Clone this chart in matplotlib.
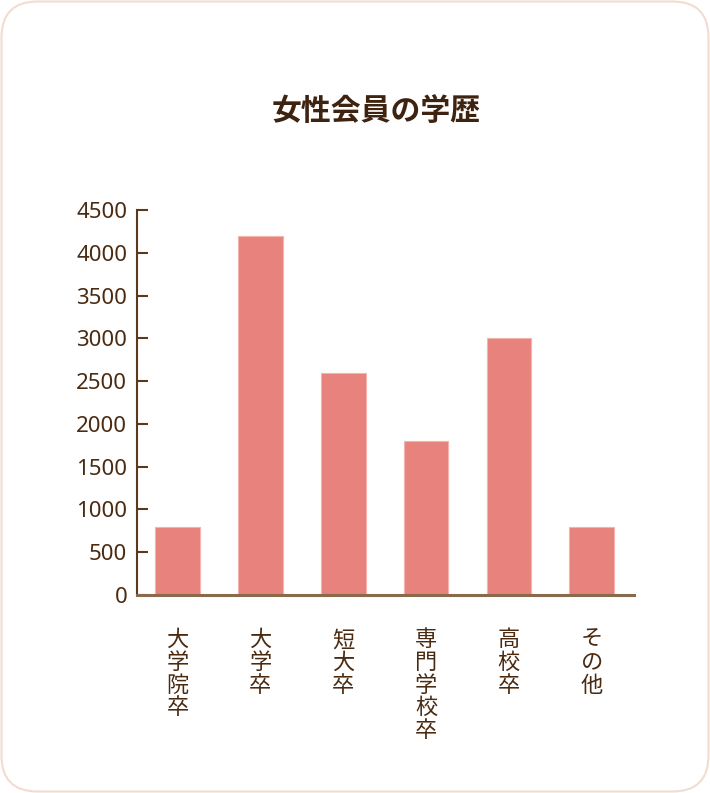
import matplotlib
matplotlib.use("Agg")
import matplotlib.pyplot as plt
from matplotlib.patches import FancyBboxPatch

categories = ["大学院卒", "大学卒", "短大卒", "専門学校卒", "高校卒", "その他"]
values = [800, 4200, 2600, 1800, 3000, 800]
yticks = [0, 500, 1000, 1500, 2000, 2500, 3000, 3500, 4000, 4500]
title = "女性会員の学歴"

plt.rcParams['font.family'] = ['Noto Sans CJK JP', 'DejaVu Sans']
text_color = "#4a2b12"

fig = plt.figure(figsize=(7.10, 7.93), dpi=100)
fig.patch.set_facecolor("white")

border = FancyBboxPatch((1.5, 1.5), 707, 790,
                        boxstyle="round,pad=0,rounding_size=36",
                        transform=None, facecolor="white",
                        edgecolor="#f2dcd0", linewidth=1.5, zorder=0)
fig.add_artist(border)

ax = fig.add_axes([137/710, 198/793, (634-137)/710, (595-210)/793])
ax.set_facecolor("none")
x = list(range(len(categories)))
ax.bar(x, values, width=0.54, color="#e8827c", edgecolor="#f3b4ad", linewidth=0.8, zorder=2)
ax.set_xlim(-0.49, 5.51)
ax.set_ylim(0, 4500)

for s in ["top", "right"]:
    ax.spines[s].set_visible(False)
ax.spines["left"].set_color("#5a3a1e")
ax.spines["left"].set_linewidth(1.5)
ax.spines["bottom"].set_color("#8a6a4c")
ax.spines["bottom"].set_linewidth(2.2)
ax.spines["bottom"].set_zorder(3)

ax.set_yticks(yticks)
ax.set_yticklabels([str(v) for v in yticks], family=['Noto Sans', 'DejaVu Sans'],
                   fontsize=16, color=text_color)
ax.tick_params(axis="y", direction="in", length=8, width=1.5, color="#5a3a1e", pad=7)

ax.set_xticks(x)
ax.set_xticklabels(["\n".join(c) for c in categories], fontsize=16, color=text_color,
                   linespacing=0.98, va="top")
ax.tick_params(axis="x", length=0, pad=24)

fig.text(376/710, 1 - 111/793, title, ha="center", va="center", fontsize=21.5,
         fontweight="bold", color="#3e2410")

fig.savefig("out.png", dpi=100, facecolor="white")
